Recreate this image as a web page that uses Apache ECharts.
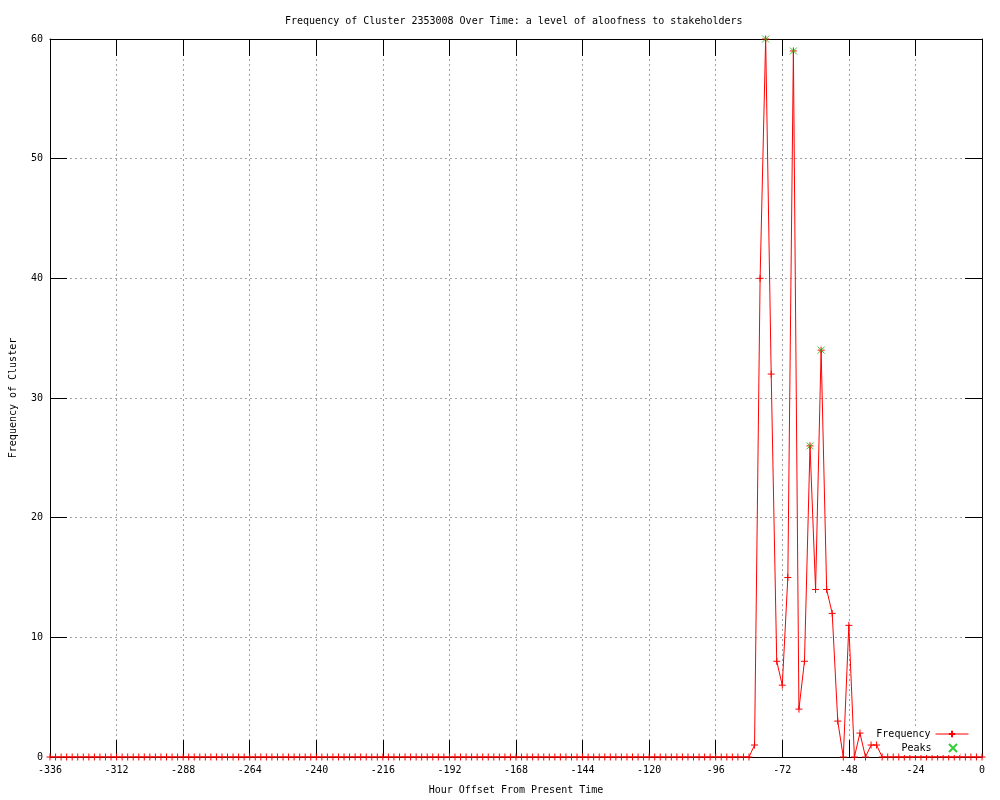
<!DOCTYPE html>
<html>
<head>
<meta charset="utf-8">
<script src="https://cdn.jsdelivr.net/npm/echarts@6/dist/echarts.min.js"></script>
<style>
html,body{margin:0;padding:0;background:#fff;overflow:hidden;}
#chart{width:1000px;height:800px;}
</style>
</head>
<body>
<div id="chart"></div>
<script>
var titleText = 'Frequency of Cluster 2353008 Over Time: a level of aloofness to stakeholders';
var xName = 'Hour Offset From Present Time';
var yName = 'Frequency of Cluster';

var hours = [
  -336,-334,-332,-330,-328,-326,-324,-322,-320,-318,-316,-314,
  -312,-310,-308,-306,-304,-302,-300,-298,-296,-294,-292,-290,
  -288,-286,-284,-282,-280,-278,-276,-274,-272,-270,-268,-266,
  -264,-262,-260,-258,-256,-254,-252,-250,-248,-246,-244,-242,
  -240,-238,-236,-234,-232,-230,-228,-226,-224,-222,-220,-218,
  -216,-214,-212,-210,-208,-206,-204,-202,-200,-198,-196,-194,
  -192,-190,-188,-186,-184,-182,-180,-178,-176,-174,-172,-170,
  -168,-166,-164,-162,-160,-158,-156,-154,-152,-150,-148,-146,
  -144,-142,-140,-138,-136,-134,-132,-130,-128,-126,-124,-122,
  -120,-118,-116,-114,-112,-110,-108,-106,-104,-102,-100,-98,
  -96,-94,-92,-90,-88,-86,-84,-82,-80,-78,-76,-74,
  -72,-70,-68,-66,-64,-62,-60,-58,-56,-54,-52,-50,
  -48,-46,-44,-42,-40,-38,-36,-34,-32,-30,-28,-26,
  -24,-22,-20,-18,-16,-14,-12,-10,-8,-6,-4,-2,
  0
];
var frequency = [
  0,0,0,0,0,0,0,0,0,0,0,0,
  0,0,0,0,0,0,0,0,0,0,0,0,
  0,0,0,0,0,0,0,0,0,0,0,0,
  0,0,0,0,0,0,0,0,0,0,0,0,
  0,0,0,0,0,0,0,0,0,0,0,0,
  0,0,0,0,0,0,0,0,0,0,0,0,
  0,0,0,0,0,0,0,0,0,0,0,0,
  0,0,0,0,0,0,0,0,0,0,0,0,
  0,0,0,0,0,0,0,0,0,0,0,0,
  0,0,0,0,0,0,0,0,0,0,0,0,
  0,0,0,0,0,0,0,1,40,60,32,8,
  6,15,59,4,8,26,14,34,14,12,3,0,
  11,0,2,0,1,1,0,0,0,0,0,0,
  0,0,0,0,0,0,0,0,0,0,0,0,
  0
];
var peakHours = [-78, -68, -62, -58];
var peakValues = [60, 59, 26, 34];

var xTicks = { min: -336, max: 0, interval: 24 };
var yTicks = { min: 0, max: 60, interval: 10 };

var freqData = hours.map(function (h, i) { return [h, frequency[i]]; });
var peakData = peakHours.map(function (h, i) { return [h, peakValues[i]]; });

var font = 'DejaVu Sans Mono';
var plusPath = 'path://M0,3.5L7,3.5M3.5,0L3.5,7';
var crossPath = 'path://M0,0L7,7M7,0L0,7';

var chart = echarts.init(document.getElementById('chart'), null, { renderer: 'canvas' });
chart.setOption({
  backgroundColor: '#ffffff',
  animation: false,
  textStyle: { fontFamily: font, fontSize: 10, color: '#000' },
  title: {
    text: titleText,
    left: 280,
    top: 11,
    textStyle: { fontFamily: font, fontSize: 10, fontWeight: 'normal', color: '#000' }
  },
  legend: [
    {
      data: ['Frequency'],
      right: 29, top: 727,
      orient: 'vertical',
      align: 'right',
      itemWidth: 33, itemHeight: 8,
      padding: [2, 2, 2, 2],
      backgroundColor: '#fff',
      lineStyle: { width: 1 },
      textStyle: { fontFamily: font, fontSize: 10, color: '#000' }
    },
    {
      data: ['Peaks'],
      right: 40, top: 741,
      orient: 'vertical',
      align: 'right',
      itemWidth: 33, itemHeight: 8,
      padding: [2, 2, 2, 2],
      backgroundColor: '#fff',
      textStyle: { fontFamily: font, fontSize: 10, color: '#000' }
    }
  ],
  grid: { left: 49, right: 18, top: 39, bottom: 39, containLabel: false },
  xAxis: [
    {
      type: 'value', position: 'bottom',
      min: xTicks.min, max: xTicks.max, interval: xTicks.interval,
      name: xName, nameLocation: 'middle', nameGap: 28,
      nameTextStyle: { fontFamily: font, fontSize: 10, color: '#000' },
      axisLine: { show: true, onZero: false, lineStyle: { color: '#000', width: 1 } },
      axisTick: { show: true, inside: true, length: 17, lineStyle: { color: '#000' } },
      axisLabel: { show: true, margin: 8, color: '#000', fontFamily: font, fontSize: 10 },
      splitLine: { show: true, showMinLine: false, showMaxLine: false, lineStyle: { color: '#a0a0a0', type: [2, 3], width: 1 } }
    },
    {
      type: 'value', position: 'top',
      min: xTicks.min, max: xTicks.max, interval: xTicks.interval,
      axisLine: { show: true, onZero: false, lineStyle: { color: '#000', width: 1 } },
      axisTick: { show: true, inside: true, length: 17, lineStyle: { color: '#000' } },
      axisLabel: { show: false },
      splitLine: { show: false }
    }
  ],
  yAxis: [
    {
      type: 'value', position: 'left',
      min: yTicks.min, max: yTicks.max, interval: yTicks.interval,
      name: yName, nameLocation: 'middle', nameGap: 32,
      nameTextStyle: { fontFamily: font, fontSize: 10, color: '#000' },
      axisLine: { show: true, onZero: false, lineStyle: { color: '#000', width: 1 } },
      axisTick: { show: true, inside: true, length: 17, lineStyle: { color: '#000' } },
      axisLabel: { show: true, margin: 7, color: '#000', fontFamily: font, fontSize: 10 },
      splitLine: { show: true, showMinLine: false, showMaxLine: false, lineStyle: { color: '#a0a0a0', type: [2, 3], width: 1 } }
    },
    {
      type: 'value', position: 'right',
      min: yTicks.min, max: yTicks.max, interval: yTicks.interval,
      axisLine: { show: true, onZero: false, lineStyle: { color: '#000', width: 1 } },
      axisTick: { show: true, inside: true, length: 17, lineStyle: { color: '#000' } },
      axisLabel: { show: false },
      splitLine: { show: false }
    }
  ],
  series: [
    {
      name: 'Frequency',
      type: 'line',
      xAxisIndex: 0, yAxisIndex: 0,
      data: freqData,
      symbol: plusPath,
      symbolSize: 7,
      showSymbol: true,
      showAllSymbol: true,
      lineStyle: { color: '#ff0000', width: 1 },
      itemStyle: { color: '#ff0000', borderColor: '#ff0000', borderWidth: 1 },
      z: 3
    },
    {
      name: 'Peaks',
      type: 'scatter',
      xAxisIndex: 0, yAxisIndex: 0,
      data: peakData,
      symbol: crossPath,
      symbolSize: 7,
      itemStyle: { color: '#00c000', borderColor: '#00c000', borderWidth: 1 },
      z: 4
    }
  ]
});
</script>
</body>
</html>
